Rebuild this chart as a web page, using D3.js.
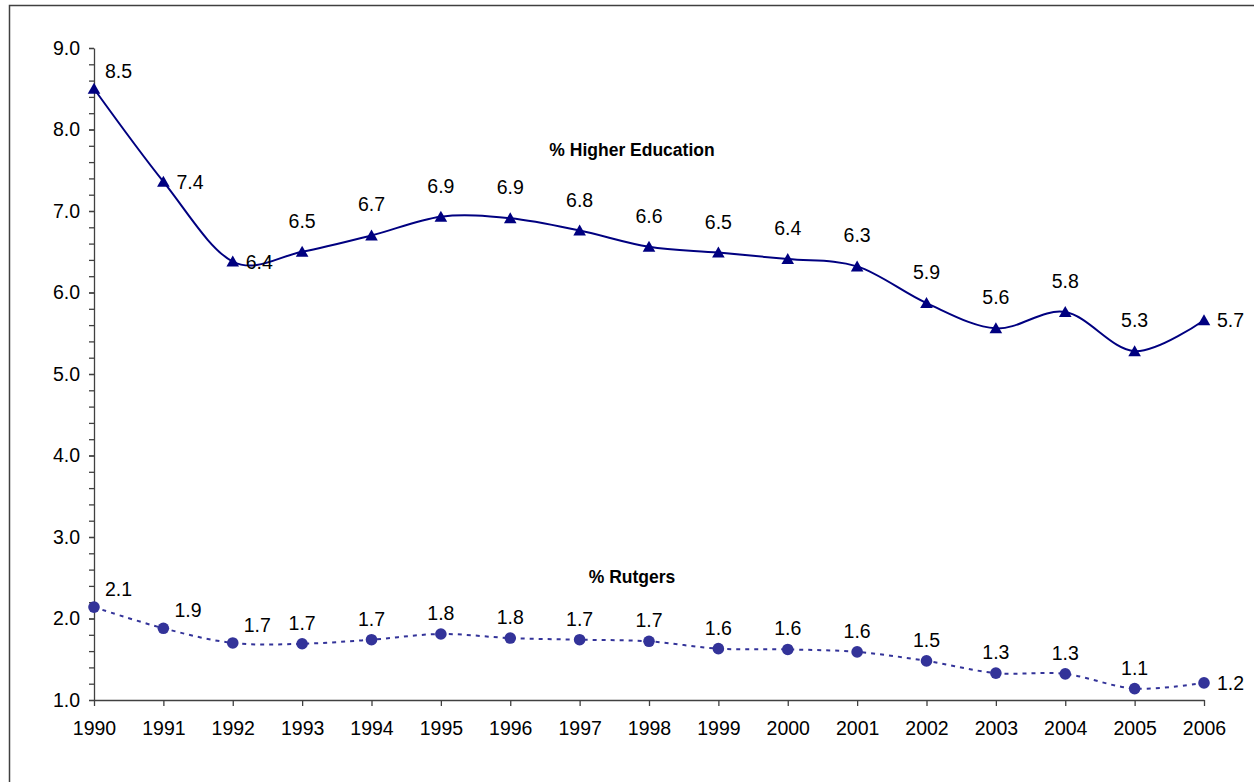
<!DOCTYPE html>
<html lang="en">
<head>
    <meta charset="UTF-8">
    <title>Higher Education and Rutgers shares</title>
    <script src="https://cdn.jsdelivr.net/npm/d3@7/dist/d3.min.js"></script>
    <style>
        body { margin: 0; background: #fff; }
        svg { display: block; font-family: "Liberation Sans", Arial, sans-serif; }
        .axis path, .axis line { stroke: #404040; stroke-width: 1.3; }
        .axis text { fill: #000; font-size: 19.5px; font-family: "Liberation Sans", Arial, sans-serif; }
        .lbl { font-size: 19.5px; fill: #000; }
        .title { font-size: 17.5px; font-weight: bold; fill: #000; }
    </style>
</head>
<body>

<svg width="1254" height="782"></svg>

<script>

    var years = [1990, 1991, 1992, 1993, 1994, 1995, 1996, 1997, 1998,
                 1999, 2000, 2001, 2002, 2003, 2004, 2005, 2006];

    var higherEd = [8.50, 7.36, 6.38, 6.50, 6.70, 6.93, 6.91, 6.76, 6.56,
                    6.49, 6.41, 6.32, 5.87, 5.56, 5.76, 5.28, 5.66];

    var rutgers = [2.14, 1.88, 1.70, 1.69, 1.74, 1.81, 1.76, 1.74, 1.72,
                   1.63, 1.62, 1.59, 1.48, 1.33, 1.32, 1.14, 1.21];

    var yTicks = [1.0, 2.0, 3.0, 4.0, 5.0, 6.0, 7.0, 8.0, 9.0];

    // where each data label sits relative to its point
    var higherEdPlace = ["upright", "right", "right", "above", "above", "above", "above", "above", "above",
                         "above", "above", "above", "above", "above", "above", "above", "right"];
    var rutgersPlace = ["upright", "upright", "upright", "above", "above", "above", "above", "above", "above",
                        "above", "above", "above", "above", "above", "above", "above", "right"];

    var svg = d3.select("svg");

    var x = d3.scaleLinear().domain([1990, 2006]).range([94, 1204]);
    var y = d3.scaleLinear().domain([1, 9]).range([700, 48]);

    // outer chart frame
    svg.append("rect")
            .attr("x", 9.5)
            .attr("y", 5.5)
            .attr("width", 1300)
            .attr("height", 900)
            .attr("fill", "none")
            .attr("stroke", "#404040")
            .attr("stroke-width", 1.5);

    // minor y ticks
    svg.append("g")
            .attr("class", "axis")
            .attr("transform", "translate(94,0)")
            .call(d3.axisLeft(y).ticks(40).tickSize(5).tickFormat(""))
            .select(".domain").remove();

    svg.append("g")
            .attr("class", "axis")
            .attr("transform", "translate(94,0)")
            .call(d3.axisLeft(y)
                    .tickValues(yTicks)
                    .tickSize(5)
                    .tickSizeOuter(0)
                    .tickPadding(9)
                    .tickFormat(d3.format(".1f")));

    svg.append("g")
            .attr("class", "axis")
            .attr("transform", "translate(0,700)")
            .call(d3.axisBottom(x)
                    .tickValues(years)
                    .tickSize(6)
                    .tickSizeOuter(0)
                    .tickPadding(15)
                    .tickFormat(d3.format("d")));

    function drawSeries(values, place, opts) {
        var pts = years.map(function(yr, i) {
            return { yr: yr, v: values[i], place: place[i] };
        });

        var line = d3.line()
                .x(function(d) { return x(d.yr); })
                .y(function(d) { return y(d.v); })
                .curve(d3.curveCardinal.tension(0));

        svg.append("path")
                .datum(pts)
                .attr("d", line)
                .attr("fill", "none")
                .attr("stroke", opts.color)
                .attr("stroke-width", 2)
                .attr("stroke-dasharray", opts.dash);

        var g = svg.append("g");
        if (opts.marker === "triangle") {
            g.selectAll("path.mk")
                    .data(pts)
                    .enter()
                    .append("path")
                    .attr("class", "mk")
                    .attr("d", "M0,-6L6.3,5L-6.3,5Z")
                    .attr("transform", function(d) {
                        return "translate(" + x(d.yr) + "," + y(d.v) + ")";
                    })
                    .attr("fill", opts.color);
        } else {
            g.selectAll("circle.mk")
                    .data(pts)
                    .enter()
                    .append("circle")
                    .attr("class", "mk")
                    .attr("cx", function(d) { return x(d.yr); })
                    .attr("cy", function(d) { return y(d.v); })
                    .attr("r", 5.8)
                    .attr("fill", opts.color);
        }

        svg.append("g")
                .selectAll("text")
                .data(pts)
                .enter()
                .append("text")
                .attr("class", "lbl")
                .attr("dy", "0.36em")
                .attr("text-anchor", function(d) {
                    return d.place === "above" ? "middle" : "start";
                })
                .attr("x", function(d) {
                    if (d.place === "above") return x(d.yr);
                    if (d.place === "right") return x(d.yr) + 13;
                    return x(d.yr) + 11;
                })
                .attr("y", function(d) {
                    if (d.place === "above") return y(d.v) - opts.above;
                    if (d.place === "right") return y(d.v);
                    return y(d.v) - 18;
                })
                .text(function(d) { return d3.format(".1f")(d.v); });
    }

    drawSeries(higherEd, higherEdPlace, { color: "#000080", marker: "triangle", dash: null, above: 31 });
    drawSeries(rutgers, rutgersPlace, { color: "#333399", marker: "circle", dash: "4,5", above: 21 });

    svg.append("text")
            .attr("class", "title")
            .attr("x", 632)
            .attr("y", 150)
            .attr("dy", "0.36em")
            .attr("text-anchor", "middle")
            .text("% Higher Education");

    svg.append("text")
            .attr("class", "title")
            .attr("x", 632)
            .attr("y", 577)
            .attr("dy", "0.36em")
            .attr("text-anchor", "middle")
            .text("% Rutgers");

</script>

</body>
</html>
